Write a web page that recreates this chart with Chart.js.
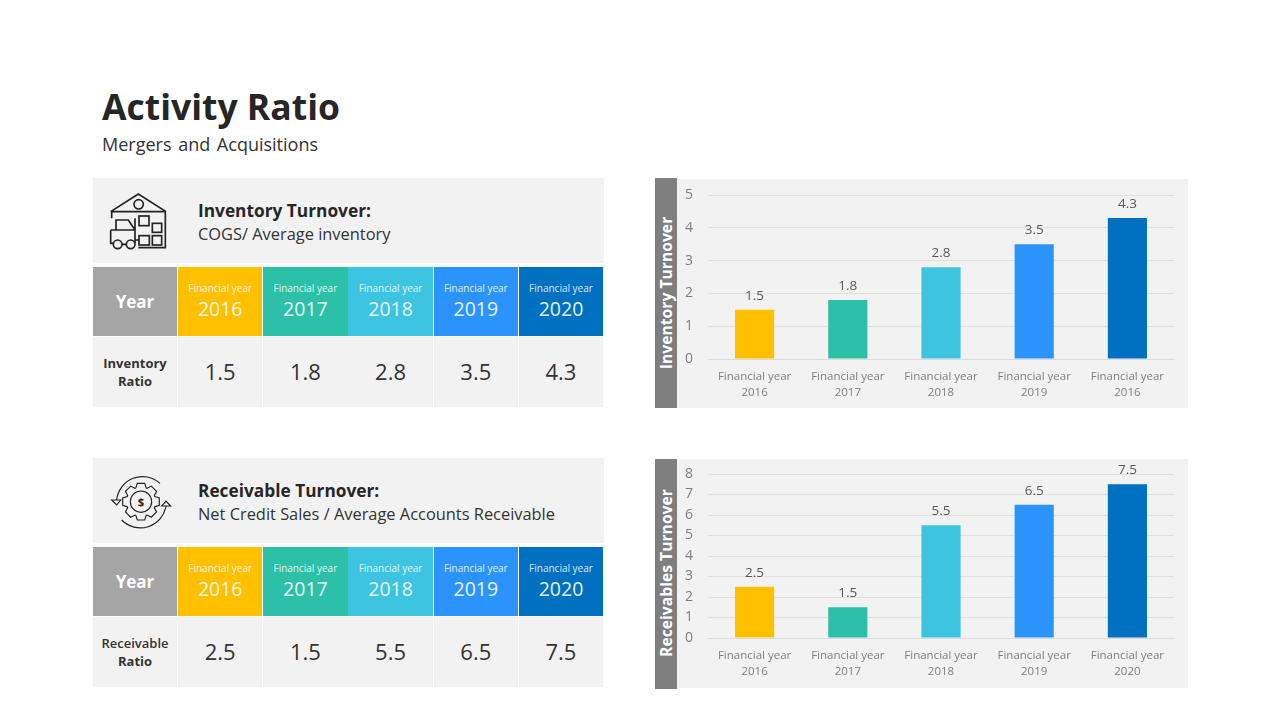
<!DOCTYPE html>
<html>
<head>
<meta charset="utf-8">
<script src="https://cdn.jsdelivr.net/npm/chart.js@4"></script>
<style>
html, body { margin: 0; padding: 0; background: #fff; }
body { width: 1280px; height: 720px; position: relative; overflow: hidden; font-family: "Open Sans", sans-serif; color: #262626; }
.abs { position: absolute; }
#title { left: 102px; top: 82px; font-size: 35.5px; font-weight: 700; line-height: 48px; }
#subtitle { left: 102px; top: 132px; font-size: 18px; line-height: 25px; color: #333; word-spacing: 2px; }
.panel { background: #f2f2f2; }
.head1 { font-size: 17.3px; font-weight: 700; line-height: 24px; white-space: nowrap; }
.head2 { font-size: 16.4px; line-height: 22px; white-space: nowrap; color: #333; }
.cell { color: #fff; text-align: center; box-sizing: border-box; }
.cell small { display: block; font-size: 10px; line-height: 12px; padding-top: 15px; opacity: .85; }
.cell b { display: block; font-size: 19.5px; font-weight: 400; line-height: 26px; margin-top: 2px; opacity: .9; }
.year { background: #a5a5a5; font-size: 17px; font-weight: 700; line-height: 69px; }
.val { background: #f2f2f2; font-size: 22px; line-height: 68px; color: #333; text-align: center; }
.rowname { background: #f2f2f2; font-size: 13px; font-weight: 700; line-height: 18px; text-align: center; padding-top: 17px; box-sizing: border-box; color: #333; }
.rowname span { font-weight: 600; }
.side { background: #7f7f7f; width: 22px; }
.side span { position: absolute; left: 50%; top: 50%; transform: translate(-50%, -50%) rotate(-90deg); color: #fff; font-size: 15.7px; font-weight: 700; white-space: nowrap; }
canvas { position: absolute; }
svg { position: absolute; fill: none; stroke: #222; stroke-width: 5; }
</style>
</head>
<body>
<div id="title" class="abs">Activity Ratio</div>
<div id="subtitle" class="abs">Mergers and Acquisitions</div>

<div id="tablas"></div>

<svg style="left:90px;top:175px" width="100" height="80" viewBox="0 0 300 240">
	<path d="M62 110 L145 57 L228 110 M65 110 H226 M65 110 V130 M226 110 V218 H145"/>
	<circle cx="146" cy="88" r="14"/>
	<path d="M62 165 H135 M62 165 V205 H70 M96 208 H108 M135 205 V165 L115 135 H78 V165 M135 130 V195 H148"/>
	<circle cx="83" cy="208" r="13"/><circle cx="122" cy="208" r="13"/>
	<rect x="147" y="123" width="30" height="29"/><rect x="187" y="145" width="28" height="27"/>
	<rect x="147" y="182" width="31" height="28"/><rect x="187" y="182" width="28" height="28"/>
</svg>
<svg style="left:90px;top:455px;stroke-width:3.5" width="100" height="80" viewBox="0 0 300 240">
	<path d="M80 135 A78 78 0 0 1 210 85"/>
	<path d="M228 153 A78 78 0 0 1 95 195"/>
	<path d="M65 135 H92 L80 150 Z"/>
	<path d="M215 153 H242 L228 138 Z"/>
	<path id="engrane"/>
	<circle cx="153" cy="140" r="32"/>
	<text x="153" y="152" text-anchor="middle" font-size="34" font-weight="700" fill="#222" stroke="none">$</text>
</svg>

<div class="abs side" style="left:655px;top:178px;height:230px"><span>Inventory Turnover</span></div>
<div class="abs panel" style="left:677px;top:179px;width:511px;height:229px"></div>
<canvas id="chartInventario" style="left:677px;top:179px"></canvas>

<div class="abs side" style="left:655px;top:459px;height:228px"><span>Receivables Turnover</span></div>
<div class="abs" style="left:655px;top:687px;width:22px;height:2px;background:#7f7f7f"></div>
<div class="abs panel" style="left:677px;top:459px;width:511px;height:229px"></div>
<canvas id="chartCuentas" style="left:677px;top:459px"></canvas>

<script>
// datos
const anios = ['2016', '2017', '2018', '2019', '2020'];
const colores = ['#ffc000', '#2cc0a8', '#3cc4e0', '#2b93fc', '#0070c0'];
const valoresInventario = [1.5, 1.8, 2.8, 3.5, 4.3];
const valoresCuentas = [2.5, 1.5, 5.5, 6.5, 7.5];
const etiquetasInventario = [['Financial year', '2016'], ['Financial year', '2017'], ['Financial year', '2018'], ['Financial year', '2019'], ['Financial year', '2016']];
const etiquetasCuentas = [['Financial year', '2016'], ['Financial year', '2017'], ['Financial year', '2018'], ['Financial year', '2019'], ['Financial year', '2020']];
const ticksInventario = [0, 1, 2, 3, 4, 5];
const ticksCuentas = [0, 1, 2, 3, 4, 5, 6, 7, 8];

function crearTabla(top, titulo, formula, nombreFila, valores){
	let html = '<div class="abs panel" style="left:93px;top:' + top + 'px;width:511px;height:85px"></div>';
	html += '<div class="abs head1" style="left:198px;top:' + (top + 21) + 'px">' + titulo + '</div>';
	html += '<div class="abs head2" style="left:198px;top:' + (top + 45) + 'px">' + formula + '</div>';
	let fila1 = top + 89, fila2 = top + 159;
	html += '<div class="abs cell year" style="left:93px;top:' + fila1 + 'px;width:84px;height:69px">Year</div>';
	html += '<div class="abs rowname" style="left:93px;top:' + fila2 + 'px;width:84px;height:70px">' + nombreFila + '</div>';
	for (var i = 0; i < anios.length; i++) {
		let x = 178 + i * 85.2;
		html += '<div class="abs cell" style="left:' + x + 'px;top:' + fila1 + 'px;width:84.4px;height:69px;background:' + colores[i] + '"><small>Financial year</small><b>' + anios[i] + '</b></div>';
		html += '<div class="abs val" style="left:' + x + 'px;top:' + fila2 + 'px;width:84.4px;height:70px">' + valores[i].toFixed(1) + '</div>';
	}
	return html;
}

document.getElementById('tablas').innerHTML =
	crearTabla(178, 'Inventory Turnover:', 'COGS/ Average inventory', 'Inventory<br>Ratio', valoresInventario) +
	crearTabla(458, 'Receivable Turnover:', 'Net Credit Sales / Average Accounts Receivable', '<span>Receivable</span><br>Ratio', valoresCuentas);

// dientes del engrane del icono
function dibujarEngrane(){
	let d = '';
	for (var i = 0; i < 8; i++) {
		let a = i * Math.PI / 4;
		let puntos = [[-0.36, 44], [-0.2, 56], [0.2, 56], [0.36, 44]];
		puntos.forEach(function(p){
			d += (d === '' ? 'M' : 'L') + (153 + p[1] * Math.cos(a + p[0])).toFixed(1) + ' ' + (140 + p[1] * Math.sin(a + p[0])).toFixed(1) + ' ';
		});
	}
	document.getElementById('engrane').setAttribute('d', d + 'Z');
}
dibujarEngrane();

// escribe el valor encima de cada barra
const pluginValores = {
	id: 'valores',
	afterDatasetsDraw(chart){
		let ctx = chart.ctx;
		let meta = chart.getDatasetMeta(0);
		ctx.save();
		ctx.font = '13.5px "Open Sans"';
		ctx.fillStyle = '#595959';
		ctx.textAlign = 'center';
		ctx.textBaseline = 'bottom';
		meta.data.forEach(function(barra, i){
			ctx.fillText(chart.data.datasets[0].data[i].toFixed(1), barra.x, barra.y - 7);
		});
		ctx.restore();
	}
};

function crearGrafica(id, etiquetas, valores, ticks, maximo, arriba, abajo){
	let canvas = document.getElementById(id);
	canvas.width = 511;
	canvas.height = 229;
	canvas.style.width = '511px';
	canvas.style.height = '229px';
	return new Chart(canvas.getContext('2d'), {
		type: 'bar',
		data: {
			labels: etiquetas,
			datasets: [{
				data: valores,
				backgroundColor: colores,
				barPercentage: 0.42,
				categoryPercentage: 1
			}]
		},
		plugins: [pluginValores],
		options: {
			responsive: false,
			animation: false,
			devicePixelRatio: 1,
			layout: { padding: { left: 8, right: 14, top: arriba, bottom: 0 } },
			plugins: { legend: { display: false }, tooltip: { enabled: false } },
			scales: {
				x: {
					afterFit(escala){ escala.height = abajo; },
					grid: { display: false },
					border: { color: '#dcdcdc' },
					ticks: { color: '#7f7f7f', font: { family: '"Open Sans"', size: 11.5, lineHeight: 1.4 }, maxRotation: 0, autoSkip: false, padding: 2 }
				},
				y: {
					min: 0,
					max: maximo,
					afterFit(escala){ escala.width = 23; },
					afterBuildTicks(escala){ escala.ticks = ticks.map(function(t){ return { value: t }; }); },
					grid: { color: '#e0e0e0', drawTicks: false },
					border: { display: false },
					ticks: { color: '#7f7f7f', font: { family: '"Open Sans"', size: 14 }, padding: 0, crossAlign: 'far', autoSkip: false }
				}
			}
		}
	});
}

document.fonts.load('14px "Open Sans"').finally(function(){
	crearGrafica('chartInventario', etiquetasInventario, valoresInventario, ticksInventario, 5, 16, 49);
	crearGrafica('chartCuentas', etiquetasCuentas, valoresCuentas, ticksCuentas, 8, 15, 50);
});
</script>
</body>
</html>
